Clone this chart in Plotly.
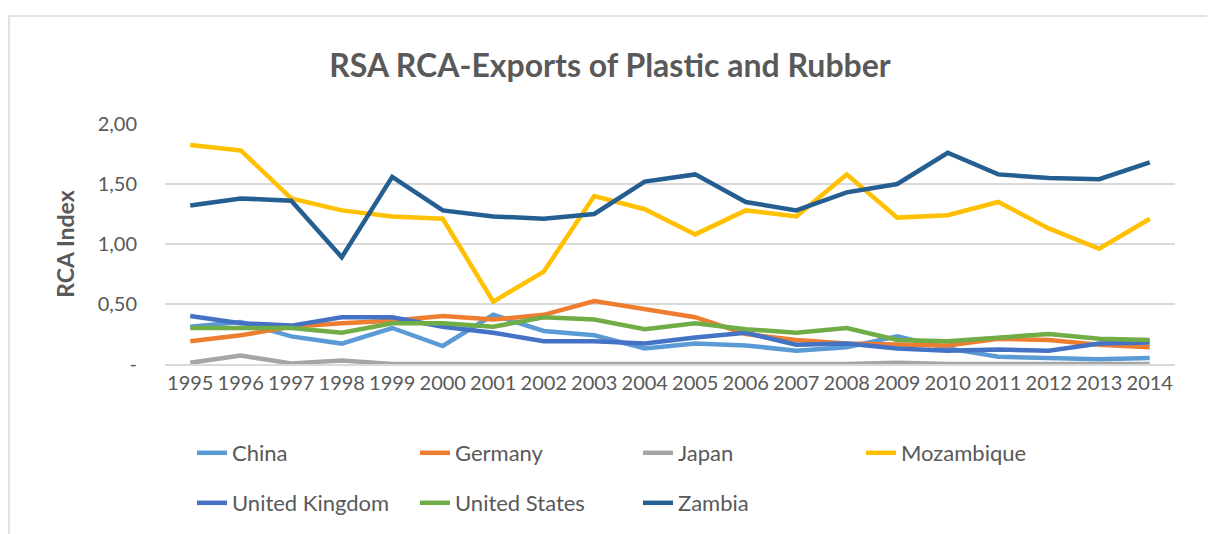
import plotly.graph_objects as go

years = [str(y) for y in range(1995, 2015)]

china = [0.31, 0.35, 0.23, 0.17, 0.30, 0.15, 0.41, 0.275, 0.24, 0.13, 0.17, 0.155, 0.11, 0.14, 0.23, 0.13, 0.06, 0.05, 0.04, 0.05]
germany = [0.19, 0.24, 0.31, 0.34, 0.36, 0.40, 0.37, 0.41, 0.525, 0.46, 0.39, 0.25, 0.20, 0.17, 0.16, 0.155, 0.21, 0.20, 0.16, 0.14]
japan = [0.01, 0.07, 0.005, 0.03, 0.0, 0.0, 0.0, 0.0, 0.0, 0.0, 0.0, 0.0, 0.0, 0.0, 0.01, 0.0, 0.0, 0.0, 0.0, 0.0]
mozambique = [1.825, 1.78, 1.38, 1.28, 1.23, 1.21, 0.52, 0.77, 1.40, 1.29, 1.08, 1.28, 1.23, 1.58, 1.22, 1.24, 1.35, 1.13, 0.96, 1.21]
uk = [0.40, 0.34, 0.32, 0.39, 0.39, 0.31, 0.26, 0.19, 0.19, 0.17, 0.22, 0.26, 0.16, 0.17, 0.13, 0.11, 0.12, 0.11, 0.17, 0.18]
us = [0.30, 0.30, 0.30, 0.26, 0.34, 0.34, 0.31, 0.39, 0.37, 0.29, 0.34, 0.29, 0.26, 0.30, 0.20, 0.19, 0.22, 0.25, 0.21, 0.20]
zambia = [1.32, 1.38, 1.36, 0.89, 1.56, 1.28, 1.23, 1.21, 1.25, 1.52, 1.58, 1.35, 1.28, 1.43, 1.50, 1.76, 1.58, 1.55, 1.54, 1.68]

series_names = ["China", "Germany", "Japan", "Mozambique", "United Kingdom", "United States", "Zambia"]
series_values = [china, germany, japan, mozambique, uk, us, zambia]
colors = ["#5B9BD5", "#ED7D31", "#A5A5A5", "#FFC000", "#4472C4", "#70AD47", "#255E91"]
legend_ids = ["legend", "legend", "legend", "legend", "legend2", "legend2", "legend2"]

y_tickvals = [0, 0.5, 1.0, 1.5, 2.0]
y_ticktext = ["-", "0,50", "1,00", "1,50", "2,00"]

FONT = "Lato"
GRAY = "#595959"

W, H = 1207, 526
ML, MR, MT, MB = 157, 40, 116, 170
PW, PH = W - ML - MR, H - MT - MB

fig = go.Figure()
for name, vals, col, lg in zip(series_names, series_values, colors, legend_ids):
    fig.add_trace(go.Scatter(
        x=years, y=vals, name=name, mode="lines",
        line=dict(color=col, width=4.5),
        legend=lg,
    ))

legend_common = dict(
    orientation="h",
    xanchor="left", yanchor="middle",
    font=dict(family=FONT, size=22, color=GRAY),
    entrywidth=178, entrywidthmode="pixels",
    bgcolor="rgba(0,0,0,0)",
    itemwidth=30,
    traceorder="normal",
)

fig.update_layout(
    width=W, height=H,
    margin=dict(l=ML, r=MR, t=MT, b=MB, autoexpand=False),
    paper_bgcolor="white", plot_bgcolor="white",
    font=dict(family=FONT, color=GRAY),
    title=dict(text="<b>RSA RCA-Exports of Plastic and Rubber</b>",
               x=(610 - 8 - ML) / PW, xref="paper", xanchor="center",
               y=1 - (66 - 8) / H, yanchor="middle",
               font=dict(family=FONT, size=32, color=GRAY)),
    xaxis=dict(type="category", range=[-0.5, 19.5], showgrid=False,
               showline=True, linecolor="#D9D9D9", linewidth=1.5,
               ticks="", tickfont=dict(family=FONT, size=20, color=GRAY),
               zeroline=False),
    yaxis=dict(range=[0, 2.0], tickvals=y_tickvals, ticktext=y_ticktext,
               showgrid=True, gridcolor="#D9D9D9", gridwidth=1.5,
               zeroline=False, showline=False, ticks="",
               tickfont=dict(family=FONT, size=20, color=GRAY),
               ticklabelstandoff=27,
               title=dict(text="<b>RCA Index</b>", standoff=16,
                          font=dict(family=FONT, size=23, color=GRAY))),
    legend=dict(x=(232 - 8 - ML - 40) / PW, y=-(453 - 8 - (MT + PH)) / PH, **legend_common),
    legend2=dict(x=(232 - 8 - ML - 40) / PW, y=-(503 - 8 - (MT + PH)) / PH, **legend_common),
    showlegend=True,
)

# outer chart frame
fig.add_shape(type="rect", xref="paper", yref="paper",
              x0=(1 - ML) / PW, x1=(1203 - ML) / PW,
              y0=-(540 - MT - PH) / PH, y1=(MT + PH - 8) / PH,
              line=dict(color="#D9D9D9", width=1.5), fillcolor="rgba(0,0,0,0)",
              layer="below")

fig.write_html("out.html")
